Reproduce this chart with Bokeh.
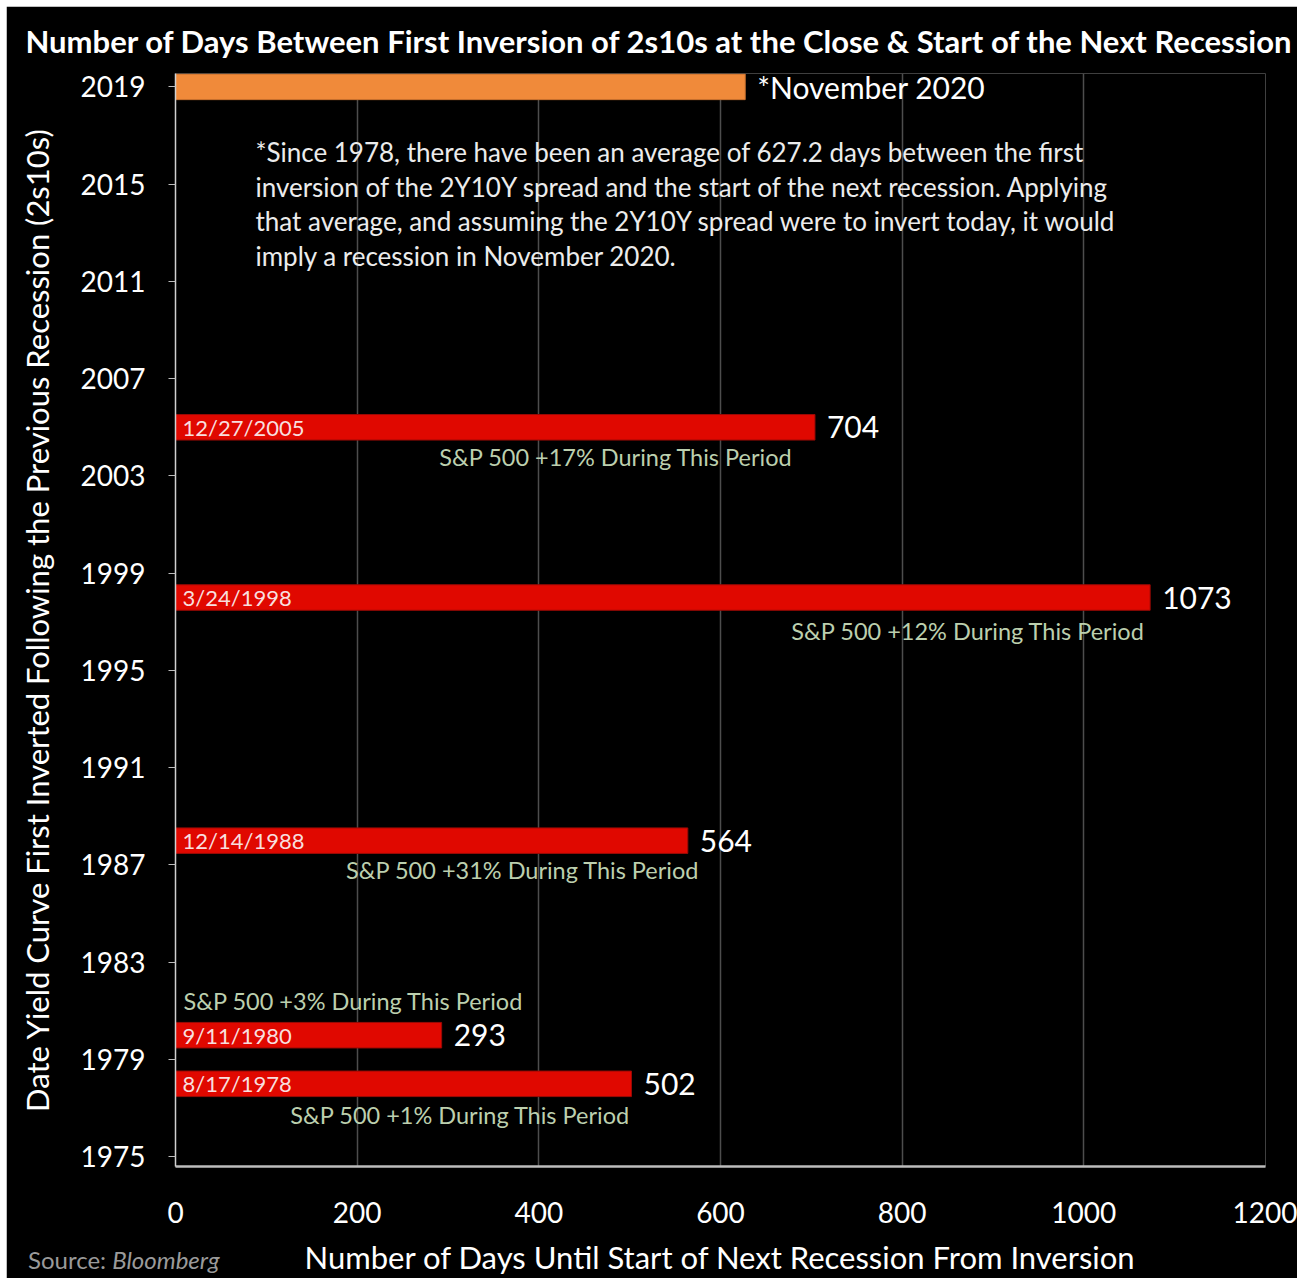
from bokeh.plotting import figure
from bokeh.layouts import column
from bokeh.models import ColumnDataSource, Label, FixedTicker, Range1d, Div
from bokeh.core.properties import value
from bokeh.embed import file_html
from bokeh.resources import INLINE

# ---- data -------------------------------------------------------------
years = [2019, 2005, 1998, 1988, 1980, 1978]
days = [627.2, 704, 1073, 564, 293, 502]
inversion_dates = ["", "12/27/2005", "3/24/1998", "12/14/1988", "9/11/1980", "8/17/1978"]
end_labels = ["*November 2020", "704", "1073", "564", "293", "502"]
spx_change = [None, 17, 12, 31, 3, 1]
x_ticks = [0, 200, 400, 600, 800, 1000, 1200]
y_ticks = [1975, 1979, 1983, 1987, 1991, 1995, 1999, 2003, 2007, 2011, 2015, 2019]
note_lines = [
    "*Since 1978, there have been an average of 627.2 days between the first",
    "inversion of the 2Y10Y spread and the start of the next recession. Applying",
    "that average, and assuming the 2Y10Y spread were to invert today, it would",
    "imply a recession in November  2020.",
]

FONT = "Lato"
ORANGE = "#F08A3A"
RED = "#E00800"
NOTE_GREEN = "#bccfae"

p = figure(
    width=1291, height=1272,
    x_range=Range1d(0, 1200), y_range=Range1d(1974.6, 2019.55),
    output_backend="svg", toolbar_location=None,
    background_fill_color="black", border_fill_color="black",
    min_border_left=169, min_border_right=32, min_border_top=67, min_border_bottom=110,
    title="Number of Days Between First Inversion of 2s10s at the Close & Start of the Next Recession",
)
p.margin = (6, 4, 0, 6)
p.outline_line_color = None

# title
p.title.text_color = "white"
p.title.text_font = FONT
p.title.text_font_style = "bold"
p.title.text_font_size = "31px"
p.title.align = "left"
p.title.offset = -150
p.title.standoff = 27

# x axis
p.xaxis.ticker = FixedTicker(ticks=x_ticks)
p.xaxis.axis_label = "Number of Days Until Start of Next Recession From Inversion"
p.xaxis.axis_label_text_font = FONT
p.xaxis.axis_label_text_font_style = "normal"
p.xaxis.axis_label_text_font_size = "31px"
p.xaxis.axis_label_text_color = "white"
p.xaxis.axis_label_standoff = 12
p.xaxis.major_label_text_font = FONT
p.xaxis.major_label_text_font_size = "28px"
p.xaxis.major_label_text_color = "white"
p.xaxis.major_label_standoff = 35
p.xaxis.major_tick_out = 0
p.xaxis.major_tick_in = 0
p.xaxis.minor_tick_out = 0
p.xaxis.minor_tick_in = 0
p.xaxis.axis_line_color = "#bdbdbd"
p.xaxis.axis_line_width = 2.5

# y axis
p.yaxis.ticker = FixedTicker(ticks=y_ticks)
p.yaxis.axis_label = "Date Yield Curve First Inverted Following the Previous Recession (2s10s)"
p.yaxis.axis_label_text_font = FONT
p.yaxis.axis_label_text_font_style = "normal"
p.yaxis.axis_label_text_font_size = "31px"
p.yaxis.axis_label_text_color = "white"
p.yaxis.axis_label_standoff = 22
p.yaxis.major_label_text_font = FONT
p.yaxis.major_label_text_font_size = "28px"
p.yaxis.major_label_text_color = "white"
p.yaxis.major_label_standoff = 23
p.yaxis.major_tick_out = 7
p.yaxis.major_tick_in = 0
p.yaxis.major_tick_line_color = "#bdbdbd"
p.yaxis.minor_tick_out = 0
p.yaxis.minor_tick_in = 0
p.yaxis.axis_line_color = "#d0d0d0"
p.yaxis.axis_line_width = 1.5

# grid
p.xgrid.ticker = FixedTicker(ticks=x_ticks)
p.xgrid.grid_line_color = "#4d4d4d"
p.xgrid.grid_line_width = 1.5
p.ygrid.visible = False

# bars
colors = [ORANGE] + [RED] * (len(years) - 1)
edges = ["#c8702e"] + ["#9a0a05"] * (len(years) - 1)
bars = ColumnDataSource(dict(year=years, days=days, date=inversion_dates,
                             end=end_labels, color=colors, edge=edges))
p.hbar(y="year", left=0, right="days", height=1.05, source=bars,
       fill_color="color", line_color="edge", line_width=1)

# inversion date inside each bar
p.text(x=0, y="year", text="date", source=bars, x_offset=7,
       text_baseline="middle", text_align="left",
       text_font=value(FONT), text_font_size="22px", text_color="#f8dede")

# value at the end of each bar
p.text(x="days", y="year", text="end", source=bars, x_offset=12,
       text_baseline="middle", text_align="left",
       text_font=value(FONT), text_font_size="30px", text_color="white")

# S&P 500 performance notes: (anchor, align, x px offset, y px offset)
note_layout = {
    2005: ("end", "right", -22, 30),
    1998: ("end", "right", -5, 33),
    1988: ("end", "right", 12, 29),
    1980: ("start", "left", 8, -34),
    1978: ("end", "right", -1, 31),
}
nx, ny, ntext, nalign, ndx, ndy = [], [], [], [], [], []
for yr, d, chg in zip(years, days, spx_change):
    if chg is None:
        continue
    anchor, align, dx, dy = note_layout[yr]
    nx.append(d if anchor == "end" else 0)
    ny.append(yr)
    ntext.append(f"S&P 500 +{chg}% During This Period")
    nalign.append(align)
    ndx.append(dx)
    ndy.append(dy)
notes = ColumnDataSource(dict(x=nx, y=ny, text=ntext, align=nalign, dx=ndx, dy=ndy))
p.text(x="x", y="y", text="text", source=notes, x_offset="dx", y_offset="dy",
       text_align="align", text_baseline="middle",
       text_font=value(FONT), text_font_size="23.5px", text_color=NOTE_GREEN)

# explanatory paragraph
for i, line in enumerate(note_lines):
    p.add_layout(Label(x=88, y=2016.31, y_offset=-34.6 * i, text=line,
                       text_baseline="middle", text_align="left",
                       text_font=FONT, text_font_size="26px", text_color="#ececec"))

# source line, tucked into the bottom-left corner of the chart
source = Div(text="Source: <i>Bloomberg</i>", width=300, height=28,
             margin=(-32, 0, 0, 28),
             styles={"color": "#9a9a9a", "font-family": "Lato", "font-size": "24px",
                     "line-height": "28px"})

page = column(p, source)
open("out.html", "w").write(file_html(page, INLINE))
